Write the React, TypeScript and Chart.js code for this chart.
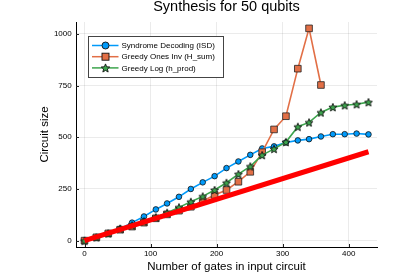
import React, { useEffect, useRef } from "react";
import { Chart, registerables } from "chart.js";

Chart.register(...registerables);

const TITLE = "Synthesis for 50 qubits";
const X_TITLE = "Number of gates in input circuit";
const Y_TITLE = "Circuit size";

const gates = [0, 18, 36, 54, 72, 90, 108, 125, 143, 161, 179, 197, 215, 233, 251, 269, 287, 305, 323, 340, 358, 376, 394, 412, 430];
const isdValues = [0, 16, 35, 58, 87, 117, 151, 180, 212, 250, 282, 312, 351, 383, 415, 446, 456, 475, 485, 491, 504, 515, 515, 518, 514];
const hsumValues = [0, 16, 35, 53, 68, 87, 108, 127, 145, 164, 192, 221, 245, 285, 333, 428, 538, 602, 832, 1027, 753];
const hprodValues = [0, 16, 35, 58, 74, 93, 113, 135, 161, 188, 214, 245, 280, 322, 359, 414, 444, 477, 551, 572, 620, 646, 655, 660, 670];
const baselineX = [0, 430];
const baselineY = [0, 430];

const xTicks = [0, 100, 200, 300, 400];
const yTicks = [0, 250, 500, 750, 1000];

const seriesNames = ["Syndrome Decoding (ISD)", "Greedy Ones Inv (H_sum)", "Greedy Log (h_prod)"];
const BLUE = "#009AFA";
const ORANGE = "#E26F46";
const GREEN = "#3DA44D";
const RED = "#FF0000";
const FONT = "'Liberation Sans', Arial, sans-serif";

function drawStarPath(ctx: CanvasRenderingContext2D, cx: number, cy: number, ro: number, ri: number) {
  ctx.beginPath();
  for (let i = 0; i < 10; i++) {
    const r = i % 2 === 0 ? ro : ri;
    const a = -Math.PI / 2 + (i * Math.PI) / 5;
    const px = cx + r * Math.cos(a);
    const py = cy + r * Math.sin(a);
    if (i === 0) ctx.moveTo(px, py);
    else ctx.lineTo(px, py);
  }
  ctx.closePath();
}

function makeStar(size: number): HTMLCanvasElement {
  const c = document.createElement("canvas");
  c.width = size;
  c.height = size;
  const ctx = c.getContext("2d")!;
  drawStarPath(ctx, size / 2, size / 2 + 0.5, size / 2 - 0.8, (size / 2 - 0.8) * 0.45);
  ctx.fillStyle = GREEN;
  ctx.fill();
  ctx.strokeStyle = "#111";
  ctx.lineWidth = 0.9;
  ctx.stroke();
  return c;
}

export default function App() {
  const ref = useRef<HTMLCanvasElement | null>(null);
  useEffect(() => {
    if (!ref.current) return;
    const star = makeStar(10);

    const innerTicks = {
      id: "innerTicks",
      beforeDatasetsDraw(chart: any) {
        const { ctx, chartArea, scales } = chart;
        ctx.save();
        ctx.strokeStyle = "#222";
        ctx.lineWidth = 1;
        ctx.beginPath();
        xTicks.forEach((v) => {
          const x = Math.round(scales.x.getPixelForValue(v)) + 0.5;
          ctx.moveTo(x, chartArea.bottom);
          ctx.lineTo(x, chartArea.bottom - 3);
        });
        yTicks.forEach((v) => {
          const y = Math.round(scales.y.getPixelForValue(v)) + 0.5;
          ctx.moveTo(chartArea.left, y);
          ctx.lineTo(chartArea.left + 3, y);
        });
        ctx.stroke();
        ctx.restore();
      },
    };

    const legendBox = {
      id: "legendBox",
      afterDraw(chart: any) {
        const { ctx, chartArea } = chart;
        const bx = Math.round(chartArea.left + 12) + 0.5;
        const by = Math.round(chartArea.top + 14) + 0.5;
        const bw = 135;
        const bh = 41;
        ctx.save();
        ctx.fillStyle = "#fff";
        ctx.fillRect(bx, by, bw, bh);
        ctx.strokeStyle = "#444";
        ctx.lineWidth = 1;
        ctx.strokeRect(bx, by, bw, bh);
        const colors = [BLUE, ORANGE, GREEN];
        ctx.font = "8px " + FONT;
        ctx.textBaseline = "middle";
        ctx.textAlign = "left";
        for (let i = 0; i < 3; i++) {
          const y = by + 9 + i * 11.2;
          ctx.strokeStyle = colors[i];
          ctx.lineWidth = 1.5;
          ctx.beginPath();
          ctx.moveTo(bx + 3.5, y);
          ctx.lineTo(bx + 30, y);
          ctx.stroke();
          const mx = bx + 17;
          if (i === 0) {
            ctx.beginPath();
            ctx.arc(mx, y, 3.5, 0, Math.PI * 2);
            ctx.fillStyle = BLUE;
            ctx.fill();
            ctx.strokeStyle = "#111";
            ctx.lineWidth = 0.9;
            ctx.stroke();
          } else if (i === 1) {
            ctx.fillStyle = ORANGE;
            ctx.fillRect(mx - 3.5, y - 3.5, 7, 7);
            ctx.strokeStyle = "#111";
            ctx.lineWidth = 0.9;
            ctx.strokeRect(mx - 3.5, y - 3.5, 7, 7);
          } else {
            drawStarPath(ctx, mx, y + 0.5, 4.5, 2);
            ctx.fillStyle = GREEN;
            ctx.fill();
            ctx.strokeStyle = "#111";
            ctx.lineWidth = 0.9;
            ctx.stroke();
          }
          ctx.fillStyle = "#000";
          ctx.fillText(seriesNames[i], bx + 33, y + 0.5);
        }
        ctx.restore();
      },
    };

    const chart = new Chart(ref.current, {
      type: "line",
      data: {
        datasets: [
          {
            label: seriesNames[0],
            data: gates.map((g, i) => ({ x: g, y: isdValues[i] })),
            borderColor: BLUE,
            backgroundColor: BLUE,
            borderWidth: 1.6,
            pointRadius: 2.8,
            pointBorderColor: "#111",
            pointBorderWidth: 0.8,
            pointStyle: "circle",
            order: 3,
          },
          {
            label: seriesNames[1],
            data: hsumValues.map((v, i) => ({ x: gates[i], y: v })),
            borderColor: ORANGE,
            backgroundColor: ORANGE,
            borderWidth: 1.6,
            pointRadius: 4.7,
            pointBorderColor: "#222",
            pointBorderWidth: 0.8,
            pointStyle: "rect",
            order: 2,
          },
          {
            label: seriesNames[2],
            data: gates.map((g, i) => ({ x: g, y: hprodValues[i] })),
            borderColor: GREEN,
            backgroundColor: GREEN,
            borderWidth: 1.6,
            pointRadius: 4,
            pointStyle: star as any,
            order: 1,
          },
          {
            label: "baseline",
            data: baselineX.map((x, i) => ({ x, y: baselineY[i] })),
            borderColor: RED,
            backgroundColor: RED,
            borderWidth: 5,
            pointRadius: 0,
            order: 0,
          },
        ],
      },
      options: {
        animation: false,
        responsive: false,
        layout: { padding: { left: 0, right: 40, top: 0, bottom: 0 } },
        plugins: {
          legend: { display: false },
          tooltip: { enabled: false },
          title: {
            display: true,
            text: TITLE,
            fullSize: false,
            color: "#000",
            font: { family: FONT, size: 14.5, weight: "normal", lineHeight: 1 },
            padding: { top: 0, bottom: 7.5 },
          },
        },
        scales: {
          x: {
            type: "linear",
            min: -12.9,
            max: 442.9,
            afterBuildTicks: (s: any) => {
              s.ticks = xTicks.map((v) => ({ value: v }));
            },
            afterFit: (s: any) => {
              s.height = 31;
            },
            grid: { color: "rgba(0,0,0,0.08)", lineWidth: 1, drawTicks: false },
            border: { color: "#000", width: 1 },
            ticks: {
              color: "#000",
              font: { family: FONT, size: 8 },
              padding: 1.5,
              maxRotation: 0,
              callback: (v: any) => String(v),
            },
            title: {
              display: true,
              text: X_TITLE,
              color: "#000",
              font: { family: FONT, size: 11.5 },
              padding: { top: 0, bottom: 4.4 },
            },
          },
          y: {
            type: "linear",
            min: -30.8,
            max: 1057.8,
            afterBuildTicks: (s: any) => {
              s.ticks = yTicks.map((v) => ({ value: v }));
            },
            afterFit: (s: any) => {
              s.width = 76;
            },
            grid: { color: "rgba(0,0,0,0.08)", lineWidth: 1, drawTicks: false },
            border: { color: "#000", width: 1 },
            ticks: {
              color: "#000",
              font: { family: FONT, size: 8 },
              padding: 4.3,
              callback: (v: any) => String(v),
            },
            title: {
              display: true,
              text: Y_TITLE,
              color: "#000",
              font: { family: FONT, size: 11.5 },
              padding: { top: 38.1, bottom: 0 },
            },
          },
        },
      },
      plugins: [innerTicks, legendBox],
    });
    return () => chart.destroy();
  }, []);

  return (
    <div style={{ position: "fixed", left: 0, top: 0, width: 417, height: 278, background: "#fff" }}>
      <canvas ref={ref} width={417} height={278} style={{ width: 417, height: 278, display: "block" }} />
    </div>
  );
}
